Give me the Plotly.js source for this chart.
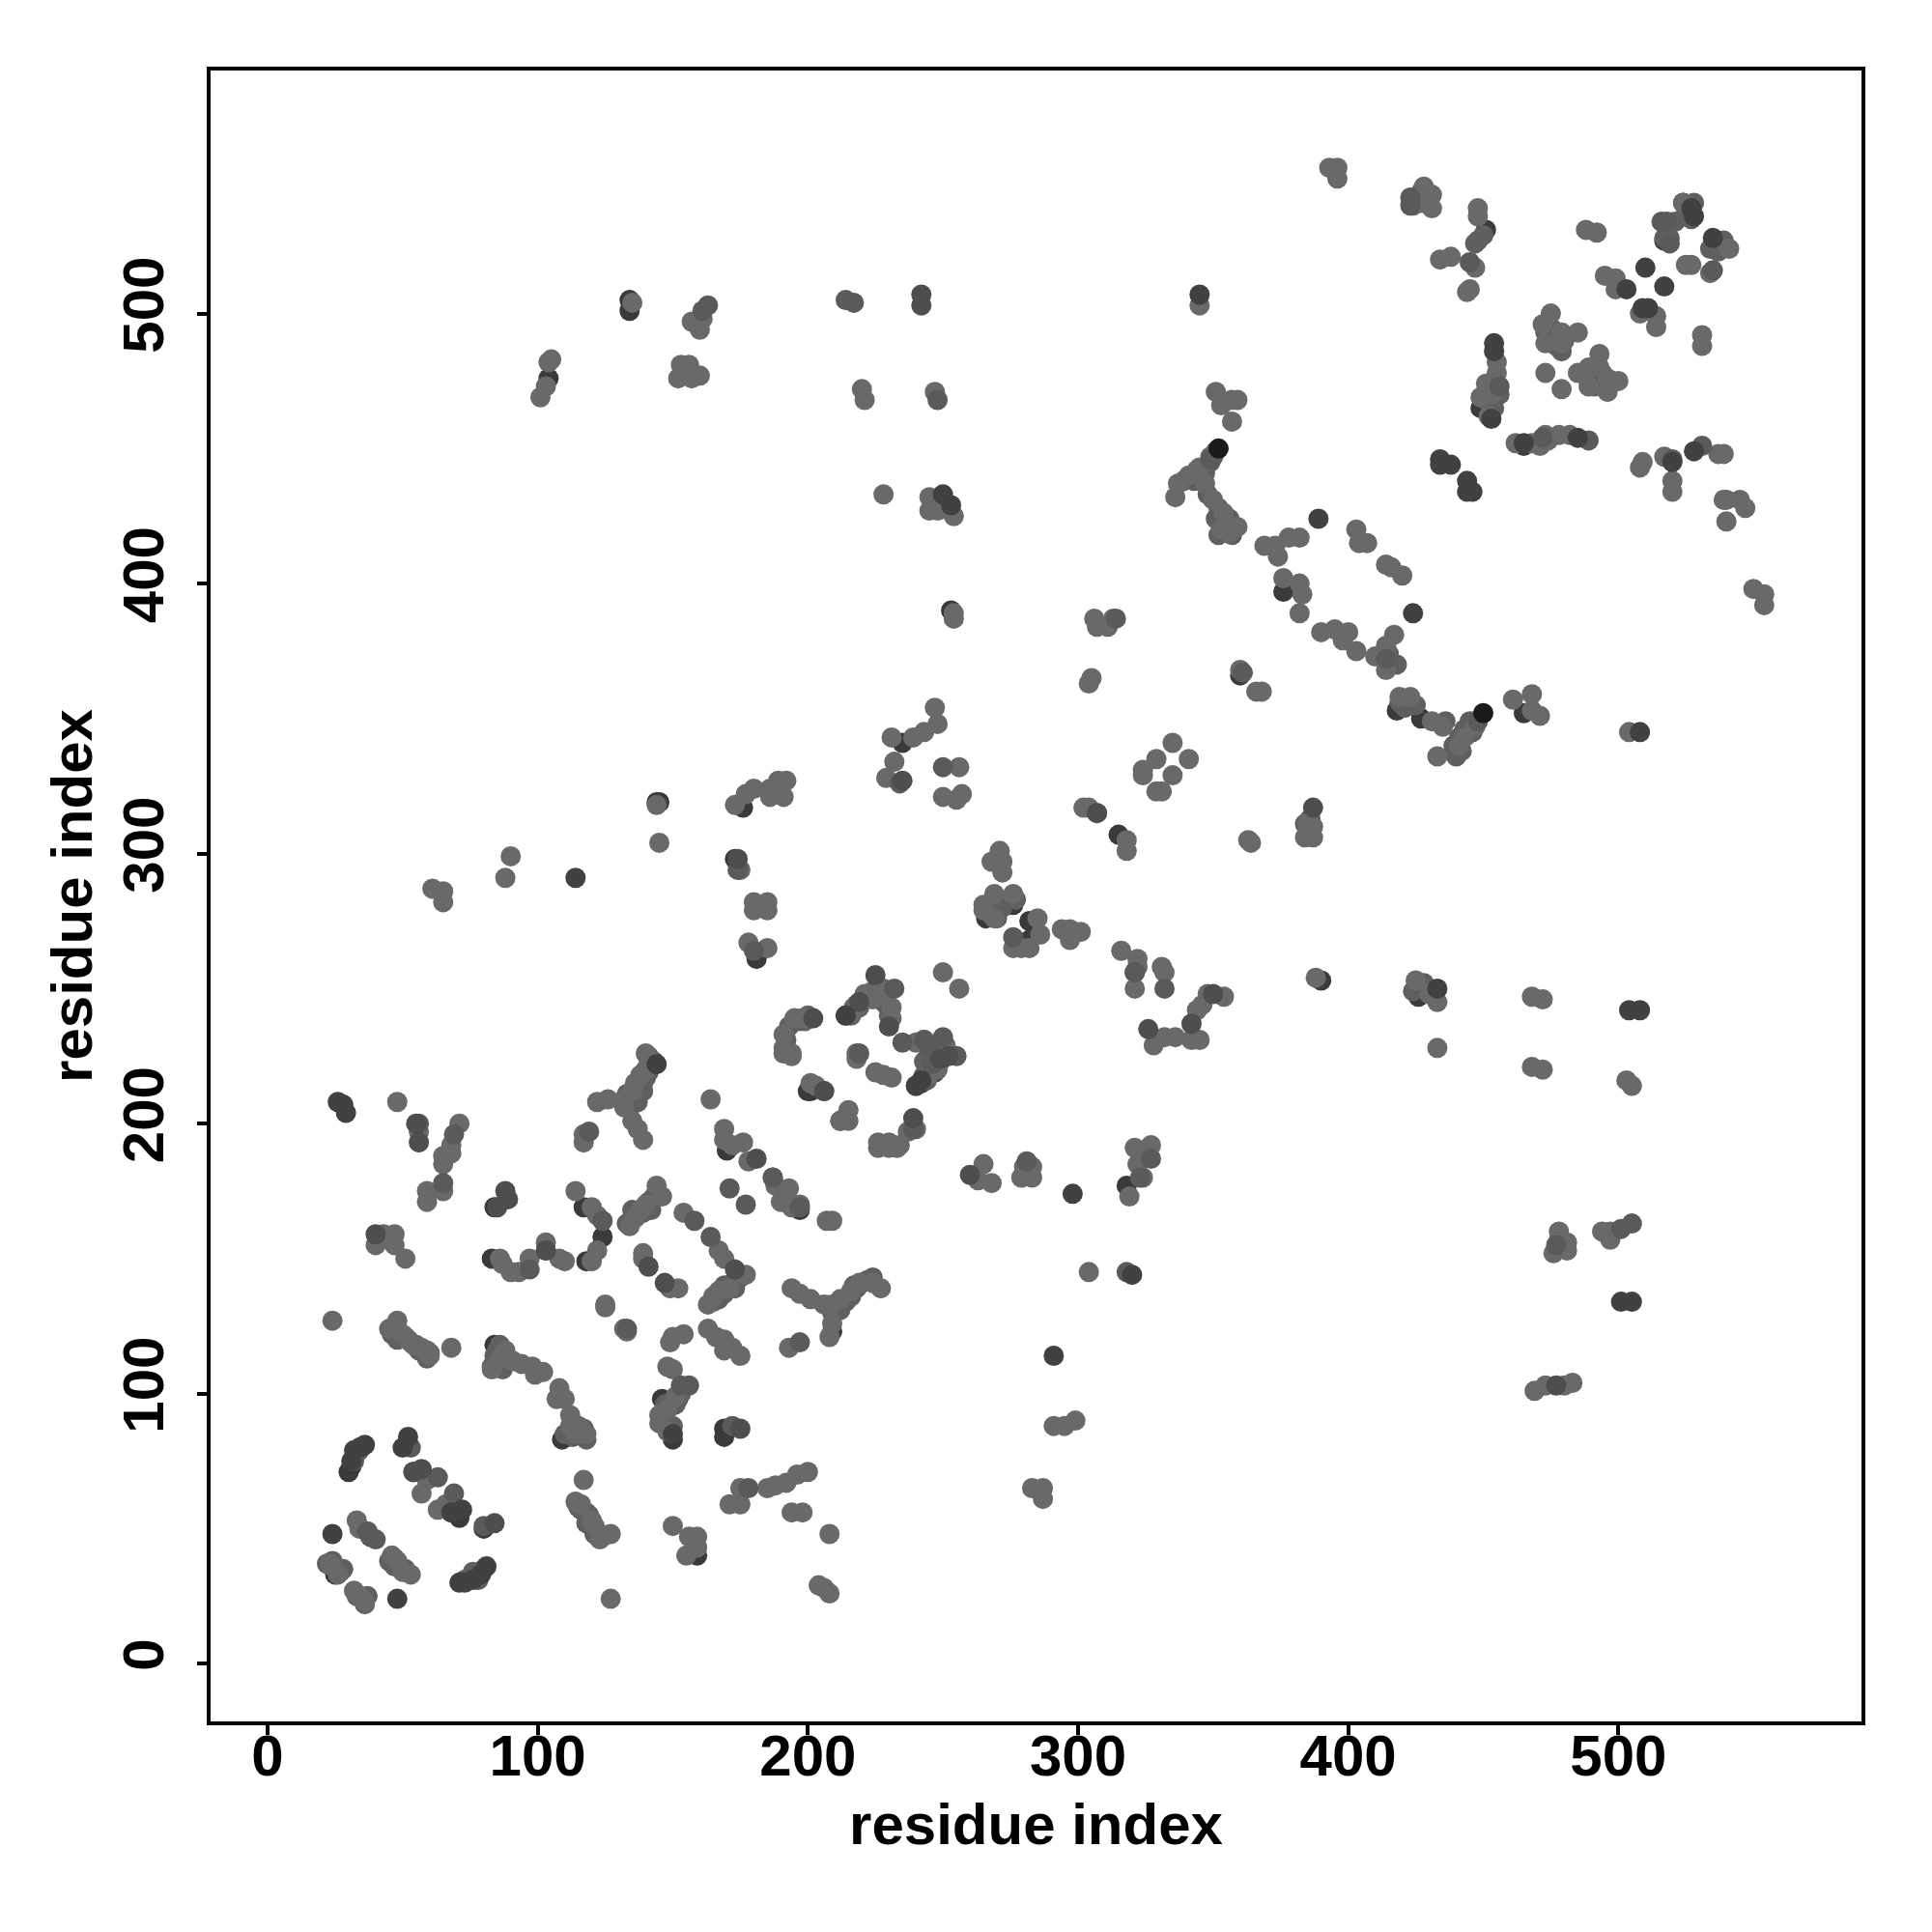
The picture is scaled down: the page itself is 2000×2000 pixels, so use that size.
<!DOCTYPE html>
<html>
<head>
<meta charset="utf-8">
<script src="https://cdn.plot.ly/plotly-3.0.0.min.js"></script>
<style>html,body{margin:0;padding:0;background:#fff}</style>
</head>
<body>
<div id="chart" style="width:2000px;height:2000px"></div>
<script>
const tickValues = [0, 100, 200, 300, 400, 500];
const axisLabel = "residue index";

// contact pairs [i, j], one list per grey level
const underPts = [[84,118],[85,112],[84,169],[83,150],[118,149],[109,83],[111,84],[124,158],[146,98],[150,83],[169,84],[169,87],
[25,33],[31,73],[30,71],[54,71],[57,72],[68,56],[71,54],[80,50],[159,40],[117,169],[170,190],[197,168],[200,212],[201,212],[214,240],[212,201],[209,123],
[240,214],[242,215],[245,218],[176,317],[144,319],[145,319],[173,298],[181,261],[253,390],[134,501],[134,505],[104,476],[269,281],[266,276],[282,275],[282,268],[315,307],[321,256],[360,366],[376,397],[418,353],[427,350],[465,352],[390,253],[426,247],[449,465],[452,464],[465,451],[451,531],[517,527],[524,541],
[218,244],[223,248],[244,224],[247,219],[137,167],[140,218],[346,441],[445,346],[276,281],[318,177],[235,341]];

const fillPts = [[47,125],[49,122],[51,121],[53,119],[55,118],[56,116],[58,115],[59,113],[60,115],[46,122],[48,120],
[85,116],[86,115],[84,114],[83,110],[85,110],[87,111],[88,113],[87,109],[86,118],
[28,35],[24,38],[22,37],[27,34],[33,25],[35,24],[37,25],[36,22],[47,39],[49,36],[51,35],[45,38],[47,36],
[73,31],[75,32],[77,33],[80,35],[78,31],[76,34],
[118,56],[119,55],[116,57],[122,49],[124,47],[118,52],[121,48],[115,58],
[110,85],[112,85],[115,88],[117,87],[113,84],[118,83],
[147,96],[149,95],[151,96],[153,100],[146,92],[147,90],[150,88],[152,98],[148,88],
[137,208],[136,210],[135,207],[137,213],[139,215],[140,217],[141,219],[142,221],[143,223],[141,225],[139,212],[133,211],[134,206],
[135,165],[137,166],[139,167],[141,171],[143,173],[133,163],[135,168],[142,168],
[167,135],[169,137],[165,134],[172,141],[173,139],[169,140],[175,143],
[214,134],[216,136],[218,139],[220,141],[222,142],[224,143],[217,140],[212,131],[210,133],[209,130],
[216,240],[217,243],[219,243],[222,247],[224,249],[227,247],[228,245],[229,244],[230,240],
[243,223],[245,222],[246,221],[247,224],[249,223],[244,216],[246,220],[248,226],[243,218],[246,226],[250,226],
[192,231],[193,236],[197,238],[199,238],[200,240],
[347,441],[349,445],[350,447],[351,449],[343,438],[344,442],[339,438],[348,433],[352,428],[355,422],[357,418],[352,418],[351,424],[353,424],[356,424],
[447,349],[446,345],[444,344],[443,346],[445,349],[442,338],[440,336],[441,343],[436,349],[439,340],[425,355],[421,354],[419,356],
[455,472],[453,469],[454,465],[456,470],[451,468],[418,370],[412,373],[415,374],
[474,497],[476,494],[473,493],[480,490],[479,486],[477,488],[490,476],[492,477],[494,478],[497,474],[491,473],[488,477],
[526,540],[525,537],[527,535],[528,541],[521,534],[517,528],[519,528],[534,524],[536,526],[539,527],[537,523],
[447,526],[450,529],[448,527],[428,541],[429,544],[427,545],[426,541],[424,249],[428,252],[431,249],[426,251],[432,247],
[384,311],[386,313],[277,283],[272,280],[267,278],[270,276]];

const lightPts = [[24,127],[48,127],[45,124],[50,122],[52,120],[54,118],[57,117],[59,116],[60,114],[68,117],
[83,109],[88,116],[86,113],[91,112],[94,111],[98,110],[99,107],[102,108],[108,102],[107,98],[110,98],[112,92],[112,88],[116,87],[118,85],[114,85],
[148,110],[150,109],[151,99],[148,94],[145,92],[145,89],[148,86],[149,119],[150,121],[154,122],[163,124],[166,121],[169,120],[169,116],[172,117],[175,114],
[125,132],[132,124],[133,123],[59,68],[57,63],[63,57],[66,59],[33,53],[34,50],[23,37],[24,36],[26,33],[32,27],[34,25],[36,23],[46,40],[48,38],[50,34],[53,33],
[117,68],[114,60],[116,59],[120,53],[121,51],[123,46],[127,48],[150,51],[156,47],[159,47],[159,43],[155,40],[127,24],[175,65],[171,59],[175,59],
[185,65],[188,66],[192,67],[196,70],[200,71],[194,56],[198,56],[208,48],[204,29],[208,26],[206,28],
[48,208],[56,197],[71,200],[68,192],[68,189],[65,188],[65,185],[65,175],[59,175],[59,171],[43,159],[47,159],[40,155],[47,155],[51,150],
[86,150],[87,148],[90,145],[93,145],[97,150],[103,156],[108,150],[110,149],[114,175],[120,169],[122,166],[122,153],[120,149],
[144,177],[146,173],[140,170],[138,168],[136,165],[134,162],[154,167],[167,153],[169,150],[177,144],[171,139],[167,138],[165,136],[163,133],
[139,152],[139,150],[152,139],[149,139],[125,133],[122,208],[126,209],[132,209],[132,206],[135,212],[136,215],[138,218],[140,220],[140,226],[141,224],
[135,201],[137,198],[139,194],[117,193],[117,196],[164,209],[169,198],[169,194],[176,193],[172,192],[178,186],[187,180],[188,177],[192,174],[190,171],[193,176],[194,169],[197,170],
[209,164],[207,164],[194,139],[197,137],[201,135],[206,133],[209,133],[212,135],[216,138],[219,141],[224,141],[227,139],[209,126],[208,121],[193,117],
[203,214],[201,215],[215,205],[212,201],[215,201],[226,193],[230,193],[234,192],[237,197],[240,198],[226,191],[230,191],
[218,226],[218,224],[192,226],[194,225],[195,239],[191,233],[191,228],[194,226],[191,226],[198,239],[225,219],[228,218],[231,217],
[231,243],[231,239],[216,241],[218,244],[221,248],[224,246],[228,250],[226,248],[240,230],[243,231],[251,229],[248,220],[245,218],[250,256],[256,250],[233,191],
[265,185],[263,179],[268,178],[280,184],[283,184],[279,180],[283,180],[271,301],[272,297],[268,297],[272,293],[269,285],[276,285],[265,281],[265,279],[269,276],
[285,276],[286,270],[276,265],[279,265],[282,265],[294,272],[297,272],[301,271],[297,268],[316,264],[322,261],[322,258],[321,250],[331,258],[332,256],[318,305],[318,301],
[363,305],[364,304],[354,247],[348,248],[346,244],[344,242],[304,145],[291,88],[295,88],[299,90],[283,65],[287,65],[287,61],
[328,229],[332,232],[336,232],[342,231],[345,231],[327,192],[321,191],[322,185],[324,180],[319,173],[388,254],[425,253],[430,248],[433,245],[433,228],
[468,247],[472,246],[468,221],[472,220],[505,214],[503,216],[478,160],[478,157],[476,152],[481,156],[481,153],[494,160],[497,157],[497,160],[469,101],[473,103],[480,103],[483,104],
[65,286],[61,287],[65,282],[90,299],[88,291],[145,304],[144,318],[173,318],[177,322],[180,324],[186,324],[189,327],[192,327],[191,321],[186,321],[175,294],
[180,282],[185,282],[180,279],[185,279],[178,267],[185,265],[247,354],[248,348],[243,345],[239,343],[231,343],[232,334],[229,328],[256,332],[250,321],[255,320],[257,322],
[101,469],[103,473],[104,482],[105,483],[135,504],[160,494],[157,497],[161,498],[153,481],[156,481],[152,476],[157,476],[160,477],[220,472],[221,468],[247,471],[228,433],[245,432],[245,427],[248,427],[254,425],[254,389],[254,387],
[313,387],[306,387],[307,384],[311,384],[305,365],[304,363],[360,368],[366,360],[368,360],[335,341],[341,335],[329,335],[335,329],[324,331],[324,329],[329,323],[331,323],[302,317],[304,317],
[385,311],[387,310],[384,306],[387,306],[345,503],[351,471],[357,468],[353,466],[357,460],[359,468],[349,447],[345,443],[341,440],[337,437],[336,432],[347,437],[350,431],[354,426],[353,420],[359,421],[356,419],
[369,414],[373,414],[374,410],[378,417],[382,417],[376,402],[382,400],[383,396],[382,389],[403,420],[404,415],[407,415],[414,407],[416,406],[420,403],
[390,382],[395,383],[400,382],[398,379],[403,375],[417,381],[414,377],[410,373],[414,368],[419,358],[423,358],[431,349],[435,347],[447,347],[443,343],[441,340],[433,336],
[461,357],[468,359],[468,353],[471,351],[504,345],[550,398],[554,396],[554,392],[540,431],[545,431],[547,428],[540,423],[508,443],[509,445],
[393,554],[396,554],[396,550],[428,547],[431,544],[431,539],[424,540],[426,543],[448,539],[448,536],[434,520],[438,521],[447,517],[444,508],[445,509],[488,531],[492,530],
[524,541],[541,524],[534,515],[525,518],[527,518],[495,514],[499,513],[499,509],[514,499],[514,495],[508,500],[531,492],[531,488],
[475,500],[472,496],[479,493],[485,493],[473,489],[479,489],[473,478],[479,472],[493,485],[485,478],[489,480],[493,480],[489,473],[496,476],[500,475],[496,471],
[455,482],[455,478],[451,474],[449,469],[453,470],[452,462],[462,452],[468,452],[471,451],[473,455],[474,453],[478,455],[482,455],[537,448],[539,448],[520,438],[520,434],[517,447],[539,431]];

const midPts = [[153,103],[156,103],[172,88],[63,69],[69,63],[37,49],[38,47],[40,46],[53,80],[80,51],[178,65],[56,200],[69,196],[65,178],[103,153],[97,146],[124,164],[158,164],[164,158],
[133,124],[119,197],[171,176],[177,170],[197,169],[197,119],[187,180],[206,212],[239,198],[232,250],[235,230],[250,232],[255,225],[219,226],[281,186],
[276,269],[332,250],[327,187],[323,180],[318,145],[477,155],[501,161],[505,163],[214,505],[217,504],[161,501],[163,503],[248,468],[314,387],[307,315],[361,367],[414,372],[520,446],[531,451],
[423,543],[423,540],[445,519],[519,526],[516,534],[518,534],[535,516],[456,473],[489,453],[472,454],[321,256],[174,294],[180,264],[250,332],[234,326],[243,231],[245,228],
[33,78],[34,79],[32,76],[32,75],[77,32],[349,446],[448,349],[246,222]];

const deepPts = [[55,200],[56,193],[40,159],[88,175],[89,172],[85,169],[175,87],[141,147],[147,141],[181,187],[173,146],[239,202],[225,255],[230,236],[202,239],[206,212],[260,181],[326,235],[342,237],[350,248],[477,103],[174,298],[235,327],[242,507],[242,503],[307,315],[387,317],[54,71],[57,72],[84,52],[103,153],[219,245],[249,224],[252,225]];

const darkPts = [[36,81],[34,80],[32,79],[31,75],[52,84],[50,80],[72,57],[68,56],[24,48],[48,24],[71,30],[73,30],[76,31],[79,33],[81,36],
[26,208],[28,207],[29,204],[150,85],[144,222],[214,240],[240,214],[242,216],[298,174],[320,144],[291,114],[433,250],[504,242],[508,242],[501,134],[505,134],[114,291],[250,433],[253,429],
[345,507],[389,424],[424,389],[508,345],[434,446],[438,444],[434,444],[444,438],[446,434],[444,434],[510,517],[517,510],[509,502],[511,502],[503,509],[527,539],[528,536],[535,528],[454,489],[454,486],[485,454],[453,461],[465,452],[528,449],[520,445]];

const blackPts = [[352,450],[450,352]];

function xs(p) { return p.map(q => q[0]); }
function ys(p) { return p.map(q => q[1]); }
function layer(p, colour) {
  return { type: "scatter", mode: "markers", x: xs(p), y: ys(p), hoverinfo: "x+y",
    marker: { size: 21, color: colour, line: { width: 0 } } };
}
const traces = [
  layer(underPts, "#3a3a3a"),
  layer(fillPts, "#5f5f5f"),
  layer(lightPts, "#696969"),
  layer(midPts, "#5a5a5a"),
  layer(deepPts, "#4e4e4e"),
  layer(darkPts, "#414141"),
  layer(blackPts, "#1a1a1a")
];
function axis(range) {
  return {
    range: range, tickmode: "array", tickvals: tickValues, ticktext: tickValues.map(String),
    showgrid: false, zeroline: false, showline: true, mirror: true, linecolor: "#000", linewidth: 3.5,
    ticks: "outside", ticklen: 10, tickwidth: 3.5, tickcolor: "#000",
    tickfont: { family: "Liberation Sans", size: 60, color: "#000", weight: 700 },
    title: { text: "<b>" + axisLabel + "</b>", font: { family: "Liberation Sans", size: 60, color: "#000" } }
  };
}
const xa = axis([-21.1, 590]);
xa.ticklabelstandoff = -30;
xa.title.standoff = 18;
const ya = axis([-21.4, 590]);
ya.tickangle = -90;
ya.ticklabelstandoff = 11;
ya.title.standoff = 1;
Plotly.newPlot("chart", traces, {
  width: 2000, height: 2000, showlegend: false,
  margin: { l: 218, r: 73, t: 73, b: 218, pad: 0 },
  paper_bgcolor: "#fff", plot_bgcolor: "#fff",
  xaxis: xa, yaxis: ya
}, { displayModeBar: false });
</script>
</body>
</html>
